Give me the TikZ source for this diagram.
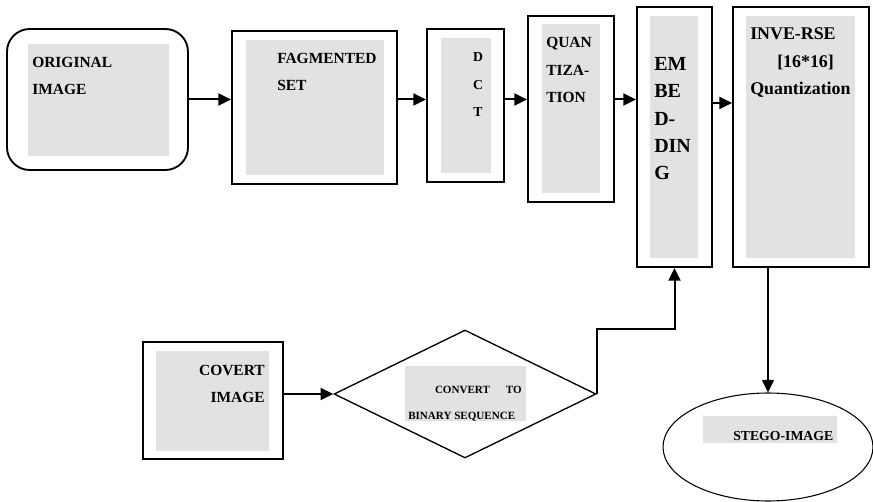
\documentclass[tikz,border=0pt]{standalone}
\usepackage{fontspec}
\setmainfont{Liberation Serif}
\usetikzlibrary{arrows.meta,shapes.geometric}
\definecolor{boxgray}{RGB}{226,226,226}
\newcommand{\fsmid}{\fontsize{11.6}{14}\selectfont\bfseries}
\newcommand{\fsbig}{\fontsize{15}{18}\selectfont\bfseries}
\newcommand{\fsinv}{\fontsize{13.4}{16}\selectfont\bfseries}
\newcommand{\fsdct}{\fontsize{10.3}{12}\selectfont\bfseries}
\newcommand{\fssmall}{\fontsize{8.3}{10}\selectfont\bfseries}
\tikzset{
  block/.style={draw, line width=1.4pt, inner sep=0pt},
  txt/.style={inner sep=0pt, anchor=base west},
  flow/.style={-{Triangle[length=9.5pt,width=9pt]}, line width=1.5pt},
}
\begin{document}
\begin{tikzpicture}[x=0.75pt,y=0.75pt,yscale=-1,xscale=1]
\useasboundingbox (0,0) rectangle (873,502);

%Shaded areas
\fill[boxgray] (28,44) rectangle (169,156);
\fill[boxgray] (246,40) rectangle (384,175);
\fill[boxgray] (441,38) rectangle (491,173);
\fill[boxgray] (542,24) rectangle (600,193);
\fill[boxgray] (650,16) rectangle (698,258);
\fill[boxgray] (746,16) rectangle (855,258);
\fill[boxgray] (156,351) rectangle (269,451);
\fill[boxgray] (405,366) rectangle (526,421);
\fill[boxgray] (703,416) rectangle (837,443);

%Blocks
\node[block, rounded corners=17pt, minimum width=135.75pt, minimum height=105.75pt] (orig) at (97.5,99.5) {};
\node[block, minimum width=123.75pt, minimum height=114.75pt] (frag) at (314.5,107.5) {};
\node[block, minimum width=57.75pt, minimum height=114.75pt] (dct) at (465.5,105.5) {};
\node[block, minimum width=64.5pt, minimum height=139.5pt] (quant) at (571,109) {};
\node[block, minimum width=56.25pt, minimum height=195pt] (embed) at (674.5,137) {};
\node[block, minimum width=102pt, minimum height=195pt] (inv) at (801,137) {};
\node[block, minimum width=105pt, minimum height=87.75pt] (covert) at (213,400.5) {};
\node[draw, diamond, line width=1pt, inner sep=0pt, minimum width=196.5pt, minimum height=96pt] (conv) at (465,394) {};
\node[draw, ellipse, line width=0.8pt, inner sep=0pt, minimum width=157.5pt, minimum height=81pt] (stego) at (768,447) {};

% Text Node
\node[txt, font=\fsmid] (origA) at (32,68) {ORIGINAL};
\node[txt, font=\fsmid] (origB) at (32,95) {IMAGE};
% Text Node
\node[txt, font=\fsmid] (fragA) at (277,64) {FAGMENTED};
\node[txt, font=\fsmid] (fragB) at (277,91) {SET};
% Text Node
\node[txt, anchor=base, font=\fsdct] (dctA) at (478,62) {D};
\node[txt, anchor=base, font=\fsdct] (dctB) at (478,90) {C};
\node[txt, anchor=base, font=\fsdct] (dctC) at (478,117) {T};
% Text Node
\node[txt, font=\fsmid] (quantA) at (546,48) {QUAN};
\node[txt, font=\fsmid] (quantB) at (546,76) {TIZA-};
\node[txt, font=\fsmid] (quantC) at (546,103) {TION};
% Text Node
\node[txt, font=\fsbig] (embedA) at (654,71) {EM};
\node[txt, font=\fsbig] (embedB) at (654,98) {BE};
\node[txt, font=\fsbig] (embedC) at (654,126) {D-};
\node[txt, font=\fsbig] (embedD) at (654,153) {DIN};
\node[txt, font=\fsbig] (embedE) at (654,180) {G};
% Text Node
\node[txt, font=\fsinv] (invA) at (750,40) {INVE-RSE};
\node[txt, font=\fsinv] (invB) at (777,68) {[16*16]};
\node[txt, font=\fsinv] (invC) at (750,95) {Quantization};
% Text Node
\node[txt, anchor=base east, font=\fsmid] (covertA) at (265,375) {COVERT};
\node[txt, anchor=base east, font=\fsmid] (covertB) at (265,402) {IMAGE};
% Text Node
\node[txt, anchor=base east, font=\fssmall] (convA) at (522,393) {CONVERT\hspace{12pt}TO};
\node[txt, font=\fssmall] (convB) at (408,419) {BINARY SEQUENCE};
% Text Node
\node[txt, font=\fsdct] (stegoA) at (733,440) {STEGO-IMAGE};

%Connectors
\draw[flow] (orig.east) -- (orig.east -| frag.west);
\draw[flow] (frag.east |- orig.east) -- (dct.west |- orig.east);
\draw[flow] (dct.east |- orig.east) -- (quant.west |- orig.east);
\draw[flow] (quant.east |- orig.east) -- (embed.west |- orig.east);
\draw[flow] ([yshift=2.6pt]embed.east |- orig.east) -- ([yshift=2.6pt]inv.west |- orig.east);
\draw[flow] (inv.south -| stego.north) -- (stego.north);
\draw[flow] (covert.east |- conv.west) -- (conv.west);
\draw[flow] (conv.east) |- (embed.south |- conv.north) -- (embed.south);

\end{tikzpicture}
\end{document}
